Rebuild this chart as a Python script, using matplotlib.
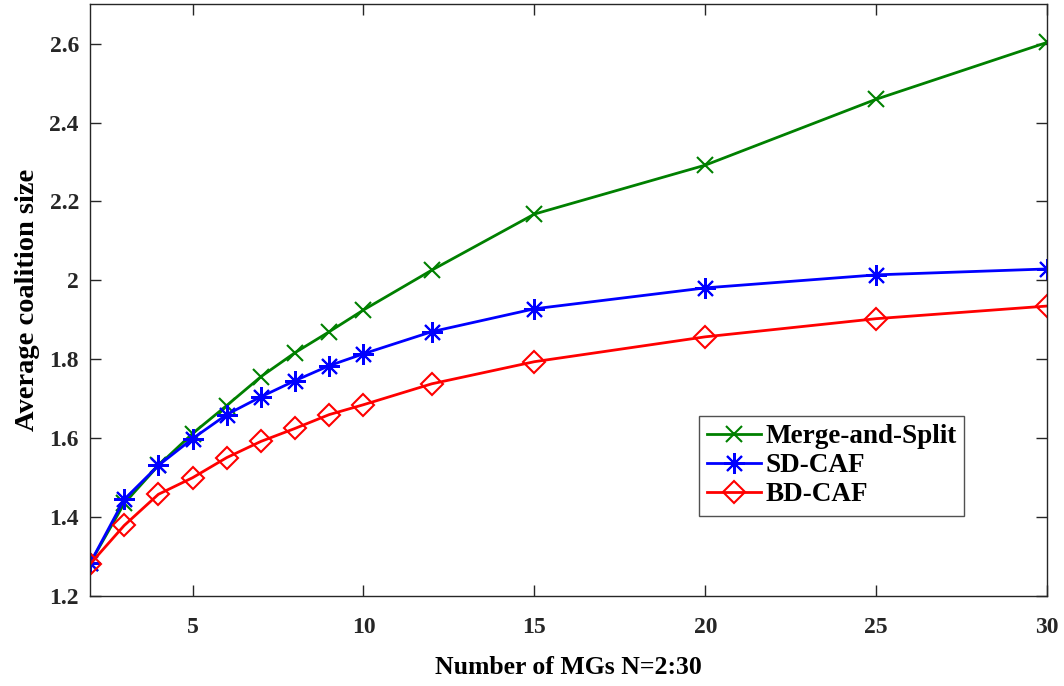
import matplotlib.pyplot as plt

plt.rcParams['font.family'] = ['Liberation Serif', 'DejaVu Serif']
plt.rcParams['font.weight'] = 'bold'
plt.rcParams['axes.labelweight'] = 'bold'

n = [2, 3, 4, 5, 6, 7, 8, 9, 10, 12, 15, 20, 25, 30]
merge_split = [1.283, 1.435, 1.531, 1.612, 1.683, 1.756, 1.817, 1.870, 1.925,
               2.026, 2.168, 2.292, 2.459, 2.603]
sd_caf = [1.283, 1.445, 1.531, 1.599, 1.660, 1.705, 1.746, 1.784, 1.814,
          1.870, 1.928, 1.981, 2.014, 2.029]
bd_caf = [1.281, 1.379, 1.458, 1.500, 1.551, 1.592, 1.625, 1.660, 1.685,
          1.738, 1.794, 1.857, 1.903, 1.935]

fig = plt.figure(figsize=(10.64, 6.86), dpi=100)
ax = fig.add_axes([0.0846, 0.131, 0.8995, 0.863])

ax.plot(n, merge_split, color='#008000', marker='x', markersize=12, mew=1.5, lw=2, label='Merge-and-Split')
ax.plot(n, sd_caf, color='blue', marker=(8, 2, 0), markersize=15, mew=1.5, lw=2, label='SD-CAF')
ax.plot(n, bd_caf, color='red', marker='D', markersize=11, mfc='none', mew=1.5, lw=2, label='BD-CAF')

ax.set_xlim(2, 30)
ax.set_ylim(1.2, 2.7)
ax.set_xticks([5, 10, 15, 20, 25, 30])
ax.set_yticks([1.2, 1.4, 1.6, 1.8, 2.0, 2.2, 2.4, 2.6])
ax.set_yticklabels(['1.2', '1.4', '1.6', '1.8', '2', '2.2', '2.4', '2.6'])
ax.tick_params(direction='in', top=True, right=True, length=8, width=1, labelsize=17, colors='#262626')
ax.tick_params(axis='x', pad=15)
ax.tick_params(axis='y', pad=8)
for s in ax.spines.values():
    s.set_color('#262626')
    s.set_linewidth(1)

ax.set_xlabel('Number of MGs N=2:30', fontsize=18.5, labelpad=13)
ax.set_ylabel('Average coalition size', fontsize=20.5, labelpad=7)

leg = ax.legend(loc='upper left', bbox_to_anchor=(0.636, 0.304), fontsize=19.5, fancybox=False,
                edgecolor='#262626', handlelength=2.0, handletextpad=0.15,
                borderpad=0.3, labelspacing=0.15, borderaxespad=0)
leg.get_frame().set_linewidth(1)

fig.savefig('out.png', dpi=100)
